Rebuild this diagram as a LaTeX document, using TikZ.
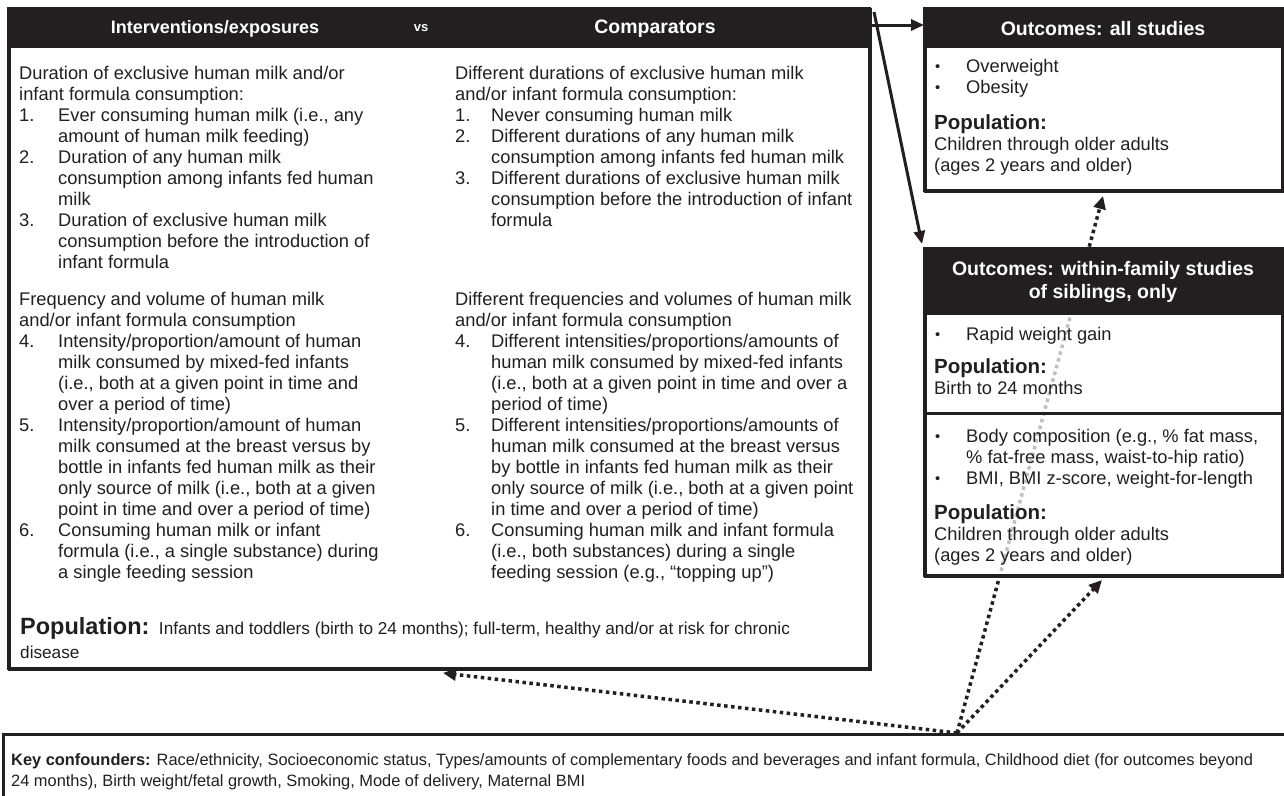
\documentclass[tikz,border=0pt]{standalone}
\usepackage{fontspec}
\setmainfont{Liberation Sans}
\usetikzlibrary{arrows.meta,calc}
\definecolor{ink}{RGB}{35,31,32}
\newcommand\itmL[1]{\makebox[39pt][l]{#1}}
\newcommand\itmR[1]{\makebox[36pt][l]{#1}}
\newcommand\bul{\makebox[31pt][l]{\raisebox{1pt}{\scalebox{0.8}{•}}}}
\newcommand\popfont{\bfseries\fontsize{20.5}{24}\selectfont}
\begin{document}
\begin{tikzpicture}[x=1pt,y=-1pt,
  every node/.style={text=ink},
  frame/.style={draw=ink,line width=3pt,fill=white,inner sep=0pt,anchor=north west},
  hdrtext/.style={text=white,font=\bfseries\fontsize{19.5}{23}\selectfont,align=center,inner sep=0pt},
  body/.style={font=\fontsize{18.3}{21}\selectfont,align=left,inner sep=0pt,anchor=north west},
  solidarr/.style={draw=ink,line width=3pt,-{Triangle[length=13pt,width=11pt]}},
  dotarr/.style={draw=ink,line width=3.5pt,dash pattern=on 3.5pt off 3.5pt,-{Triangle[length=13pt,width=12pt]}}
]
\useasboundingbox[fill=white] (0,0) rectangle (1284,795);

% ---------- main box ----------
\node[frame,minimum width=861pt,minimum height=660pt] (main) at (8,8) {};
\fill[ink] (main.north west) rectangle ($(main.north east)+(0,40)$);
\draw[ink,line width=3pt] (8,8) rectangle (869,668);
\node[hdrtext,font=\bfseries\fontsize{18}{22}\selectfont] (hI) at (215,29) {Interventions/exposures};
\node[hdrtext,font=\bfseries\fontsize{13}{15}\selectfont] (hvs) at (421,28) {vs};
\node[hdrtext] (hC) at (655,29) {Comparators};

\node[body] (lc1) at (19,66.5) {Duration of exclusive human milk and/or\\
infant formula consumption:\\
\itmL{1.}Ever consuming human milk (i.e., any\\
\hspace*{39pt}amount of human milk feeding)\\
\itmL{2.}Duration of any human milk\\
\hspace*{39pt}consumption among infants fed human\\
\hspace*{39pt}milk\\
\itmL{3.}Duration of exclusive human milk\\
\hspace*{39pt}consumption before the introduction of\\
\hspace*{39pt}infant formula};

\node[body] (lc2) at (19,292.5) {Frequency and volume of human milk\\
and/or infant formula consumption\\
\itmL{4.}Intensity/proportion/amount of human\\
\hspace*{39pt}milk consumed by mixed-fed infants\\
\hspace*{39pt}(i.e., both at a given point in time and\\
\hspace*{39pt}over a period of time)\\
\itmL{5.}Intensity/proportion/amount of human\\
\hspace*{39pt}milk consumed at the breast versus by\\
\hspace*{39pt}bottle in infants fed human milk as their\\
\hspace*{39pt}only source of milk (i.e., both at a given\\
\hspace*{39pt}point in time and over a period of time)\\
\itmL{6.}Consuming human milk or infant\\
\hspace*{39pt}formula (i.e., a single substance) during\\
\hspace*{39pt}a single feeding session};

\node[body] (rc1) at (455,66.5) {Different durations of exclusive human milk\\
and/or infant formula consumption:\\
\itmR{1.}Never consuming human milk\\
\itmR{2.}Different durations of any human milk\\
\hspace*{36pt}consumption among infants fed human milk\\
\itmR{3.}Different durations of exclusive human milk\\
\hspace*{36pt}consumption before the introduction of infant\\
\hspace*{36pt}formula};

\node[body] (rc2) at (455,292.5) {Different frequencies and volumes of human milk\\
and/or infant formula consumption\\
\itmR{4.}Different intensities/proportions/amounts of\\
\hspace*{36pt}human milk consumed by mixed-fed infants\\
\hspace*{36pt}(i.e., both at a given point in time and over a\\
\hspace*{36pt}period of time)\\
\itmR{5.}Different intensities/proportions/amounts of\\
\hspace*{36pt}human milk consumed at the breast versus\\
\hspace*{36pt}by bottle in infants fed human milk as their\\
\hspace*{36pt}only source of milk (i.e., both at a given point\\
\hspace*{36pt}in time and over a period of time)\\
\itmR{6.}Consuming human milk and infant formula\\
\hspace*{36pt}(i.e., both substances) during a single\\
\hspace*{36pt}feeding session (e.g., “topping up”)};

\node[body,font=\fontsize{17.2}{24}\selectfont] (pop) at (20,617) {{\bfseries\fontsize{23.5}{24}\selectfont Population:}\ \ Infants and toddlers (birth to 24 months); full-term, healthy and/or at risk for chronic\\
disease};

% ---------- confounder box ----------
\node[frame,minimum width=1320pt,minimum height=120pt] (conf) at (2,733) {};
\node[body,font=\fontsize{16.4}{21}\selectfont] (conft) at (11,753) {\textbf{Key confounders:} Race/ethnicity, Socioeconomic status, Types/amounts of complementary foods and beverages and infant formula, Childhood diet (for outcomes beyond\\
24 months), Birth weight/fetal growth, Smoking, Mode of delivery, Maternal BMI};

\coordinate (src) at (957,733);

% ---------- outcomes: all studies ----------
\node[frame,minimum width=358pt,minimum height=182pt] (all) at (924,8) {};
\fill[ink] (all.north west) rectangle ($(all.north east)+(0,40)$);
\draw[ink,line width=3pt] (924,8) rectangle (1282,190);
\node[hdrtext] (hA) at (1103,29) {Outcomes: all studies};
\node[body] (allb) at (935,59.5) {\bul Overweight\\ \bul Obesity};
\node[body] (allp) at (934,114.5) {{\popfont Population:}\\ Children through older adults\\ (ages 2 years and older)};

% dotted arrow to all-studies box (drawn under the within-family box)
\draw[dotarr] (src) -- ([xshift=179pt,yshift=-3pt]all.south west);

% ---------- outcomes: within-family ----------
\node[frame,fill opacity=0.72,minimum width=358pt,minimum height=327pt] (within) at (924,248) {};
\fill[ink] (within.north west) rectangle ($(within.north east)+(0,67)$);
\draw[ink,line width=3pt] (924,248) rectangle (1282,575);
\draw[ink,line width=3pt] (924,413) -- (1282,413);
\node[hdrtext] (hW) at (1103,281.5) {Outcomes: within-family studies\\ of siblings, only};
\node[body] (wb1) at (935,327.5) {\bul Rapid weight gain};
\node[body] (wp1) at (934,358.5) {{\popfont Population:}\\ Birth to 24 months};
\node[body] (wb2) at (935,429.5) {\bul Body composition (e.g., \% fat mass,\\ \hspace*{31pt}\% fat-free mass, waist-to-hip ratio)\\ \bul BMI, BMI z-score, weight-for-length};
\node[body] (wp2) at (934,504.5) {{\popfont Population:}\\ Children through older adults\\ (ages 2 years and older)};

% ---------- connectors ----------
\draw[solidarr] ([yshift=-17pt]main.north east) -- ([yshift=-17pt]all.north west);
\draw[solidarr] ([xshift=2pt,yshift=-4pt]main.north east) -- ([xshift=-2pt,yshift=4pt]within.north west);
\draw[dotarr] (src) -- ([xshift=435pt,yshift=-2pt]main.south west);
\draw[dotarr] (src) -- ([xshift=178pt,yshift=-2pt]within.south west);
\end{tikzpicture}
\end{document}
